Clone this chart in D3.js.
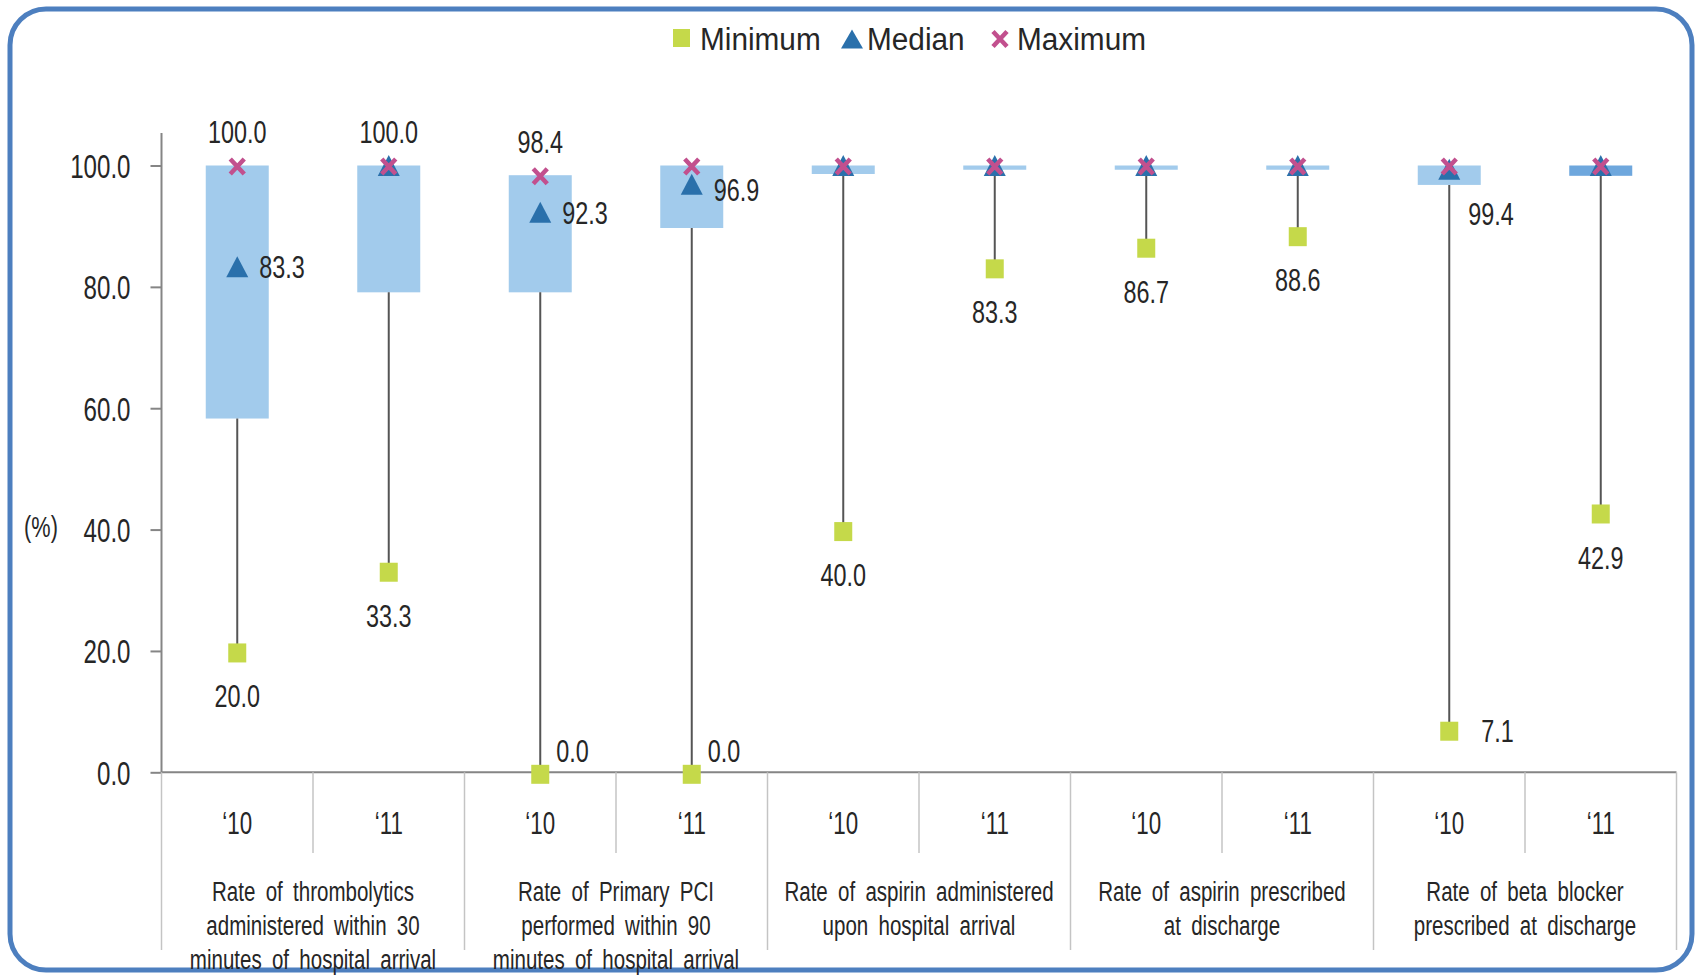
<!DOCTYPE html>
<html><head><meta charset="utf-8">
<script src="https://cdn.jsdelivr.net/npm/d3@7"></script>
<style>
body{margin:0;background:#fff;}
svg{display:block;}
text{font-family:"Liberation Sans",Arial,sans-serif;fill:#262626;}
</style></head><body>
<svg id="chart" width="1696" height="975"></svg>
<script>
// ---------- data ----------
const groupLines = [
  ["Rate of thrombolytics", "administered within 30", "minutes of hospital arrival"],
  ["Rate of Primary PCI", "performed within 90", "minutes of hospital arrival"],
  ["Rate of aspirin administered", "upon hospital arrival"],
  ["Rate of aspirin prescribed", "at discharge"],
  ["Rate of beta blocker", "prescribed at discharge"]
];
const years = ["\u201810", "\u201811"];
const minVals    = [20.0, 33.3, 0.0, 0.0, 40.0, 83.3, 86.7, 88.6, 7.1, 42.9];
const q1Vals     = [58.3, 79.1, 79.1, 89.7, 98.6, 99.3, 99.3, 99.3, 96.8, 98.3];
const medianVals = [83.3, 100.0, 92.3, 96.9, 100.0, 100.0, 100.0, 100.0, 99.4, 100.0];
const q3Vals     = [100.0, 100.0, 98.4, 100.0, 100.0, 100.0, 100.0, 100.0, 100.0, 100.0];
const maxVals    = [100.0, 100.0, 98.4, 100.0, 100.0, 100.0, 100.0, 100.0, 100.0, 100.0];
const showMaxLabel    = [true, true, true, false, false, false, false, false, false, false];
const showMedianLabel = [true, false, true, true, false, false, false, false, true, false];
const showMinLabel    = [true, true, true, true, true, true, true, true, true, true];
const yTicks = [0, 20, 40, 60, 80, 100];
const legendNames = ["Minimum", "Median", "Maximum"];

// ---------- layout ----------
const svg = d3.select("#chart");
const colors = {box:"#a2cbec", boxDark:"#6ea7dd", min:"#c5d94a", med:"#2a70ab", max:"#c2508e", whisker:"#555", axis:"#858585", sep:"#c4c4c4"};

svg.append("rect").attr("x",10).attr("y",9).attr("width",1682).attr("height",961)
  .attr("rx",36).attr("ry",36).attr("fill","#fff").attr("stroke","#4d7fbf").attr("stroke-width",5);

const slots = d3.range(10);
const x = d3.scaleBand().domain(slots).range([161.5, 1676.5]).padding(0);
const y = d3.scaleLinear().domain([0,100]).range([772.3, 165.5]);
const boxW = 63;
const cx = i => x(i) + x.bandwidth()/2;

const cmp = []; // texts to compress [selection, ratio]

// y axis
const yAxis = svg.append("g").attr("transform","translate(161.5,0)")
  .call(d3.axisLeft(y).tickValues(yTicks).tickFormat(d3.format(".1f")).tickSize(11).tickPadding(20));
yAxis.select(".domain").remove();
yAxis.selectAll(".tick line").attr("stroke",colors.axis).attr("stroke-width",2);
yAxis.selectAll(".tick text").attr("font-size",33).attr("fill","#262626").attr("font-family",null).attr("dy","0.36em");
cmp.push([yAxis.selectAll(".tick text"),0.73]);
svg.append("line").attr("x1",161.5).attr("x2",161.5).attr("y1",133).attr("y2",y(0))
  .attr("stroke",colors.axis).attr("stroke-width",2);
const pct = svg.append("text").attr("x",41).attr("y",527).attr("dy","0.36em").attr("text-anchor","middle")
  .attr("font-size",29).text("(%)");
cmp.push([pct,0.75]);

// x axis + separators
svg.append("line").attr("x1",161.5).attr("x2",1676.5).attr("y1",y(0)).attr("y2",y(0))
  .attr("stroke",colors.axis).attr("stroke-width",2);
slots.concat([10]).forEach(i => {
  if (i === 0) return;
  const xx = i < 10 ? x(i) : x(9) + x.bandwidth();
  const isGroup = i % 2 === 0;
  svg.append("line").attr("x1",xx).attr("x2",xx).attr("y1",y(0)).attr("y2", isGroup ? 950 : 853)
    .attr("stroke",colors.sep).attr("stroke-width",1.5);
});
svg.append("line").attr("x1",161.5).attr("x2",161.5).attr("y1",y(0)).attr("y2",950)
  .attr("stroke",colors.sep).attr("stroke-width",1.5);

const yearT = svg.append("g").selectAll("text").data(slots).join("text")
  .attr("x", i => cx(i)).attr("y",823).attr("dy","0.36em").attr("text-anchor","middle")
  .attr("font-size",31).text(i => years[i%2]);
cmp.push([yearT,0.72]);

groupLines.forEach((lines,g) => {
  const gx = x(2*g) + x.bandwidth();
  const t = svg.append("g").selectAll("text").data(lines).join("text")
    .attr("x",gx).attr("y",(d,k)=>891 + k*34).attr("dy","0.36em").attr("text-anchor","middle")
    .attr("font-size",27).style("word-spacing","6px").text(d=>d);
  cmp.push([t,0.76]);
});

// boxes
svg.append("g").selectAll("rect").data(slots).join("rect")
  .attr("x", i => cx(i) - boxW/2).attr("width", boxW)
  .attr("y", i => y(q3Vals[i])).attr("height", i => y(q1Vals[i]) - y(q3Vals[i]))
  .attr("fill", i => i === 9 ? colors.boxDark : colors.box);

// whiskers
svg.append("g").selectAll("line").data(slots).join("line")
  .attr("x1", cx).attr("x2", cx).attr("y1", i => y(q1Vals[i])).attr("y2", i => y(minVals[i]))
  .attr("stroke", colors.whisker).attr("stroke-width", 2);

// markers
const sqW = 18, sqH = 19;
svg.append("g").selectAll("rect").data(slots).join("rect")
  .attr("x", i => cx(i) - sqW/2).attr("y", i => y(minVals[i]) - sqH/2 + 2)
  .attr("width", sqW).attr("height", sqH).attr("fill", colors.min);

const tri = (w,h) => `M0,${-h/2}L${w/2},${h/2}L${-w/2},${h/2}Z`;
svg.append("g").selectAll("path").data(slots).join("path")
  .attr("transform", i => `translate(${cx(i)},${y(medianVals[i])})`)
  .attr("d", tri(22,21)).attr("fill", colors.med);

const cross = (w,h) => `M${-w/2},${-h/2}L${w/2},${h/2}M${w/2},${-h/2}L${-w/2},${h/2}`;
svg.append("g").selectAll("path").data(slots).join("path")
  .attr("transform", i => `translate(${cx(i)},${y(maxVals[i])+1})`)
  .attr("d", cross(14,15)).attr("fill","none").attr("stroke", colors.max).attr("stroke-width",4.5);

// labels
const fmt = d3.format(".1f");
const labG = svg.append("g");
function lab(xx, yy, txt, anchor) {
  const t = labG.append("text").attr("x",xx).attr("y",yy).attr("dy","0.36em")
    .attr("text-anchor",anchor).attr("font-size",32).text(txt);
  cmp.push([t,0.73]);
}
slots.forEach(i => {
  if (showMaxLabel[i]) lab(cx(i), y(maxVals[i]) - 34, fmt(maxVals[i]), "middle");
  if (showMedianLabel[i]) {
    if (medianVals[i] >= 99) lab(cx(i) + 19, y(medianVals[i]) + 44, fmt(medianVals[i]), "start");
    else lab(cx(i) + 22, y(medianVals[i]) + (medianVals[i] > 95 ? 5 : 0), fmt(medianVals[i]), "start");
  }
  if (showMinLabel[i]) {
    if (minVals[i] < 1) lab(cx(i) + 16, y(minVals[i]) - 22, fmt(minVals[i]), "start");
    else if (minVals[i] < 10) lab(cx(i) + 32, y(minVals[i]) + 1, fmt(minVals[i]), "start");
    else lab(cx(i), y(minVals[i]) + 45, fmt(minVals[i]), "middle");
  }
});

// legend
const lg = svg.append("g");
lg.append("rect").attr("x",673).attr("y",29).attr("width",17).attr("height",18).attr("fill",colors.min);
lg.append("path").attr("transform","translate(852,39)").attr("d",tri(22,19)).attr("fill",colors.med);
lg.append("path").attr("transform","translate(1000,39)").attr("d",cross(14,15)).attr("fill","none")
  .attr("stroke",colors.max).attr("stroke-width",4.5);
const lx = [700, 867, 1017];
const lt = lg.selectAll("text").data(legendNames).join("text")
  .attr("x",(d,k)=>lx[k]).attr("y",39).attr("dy","0.36em").attr("font-size",31).text(d=>d);
cmp.push([lt,0.96]);

// horizontal compression of the narrow typeface
cmp.forEach(([sel, r]) => {
  sel.each(function(){
    const w = this.getComputedTextLength();
    this.setAttribute("textLength", (w*r).toFixed(1));
    this.setAttribute("lengthAdjust","spacingAndGlyphs");
  });
});
</script>
</body></html>
